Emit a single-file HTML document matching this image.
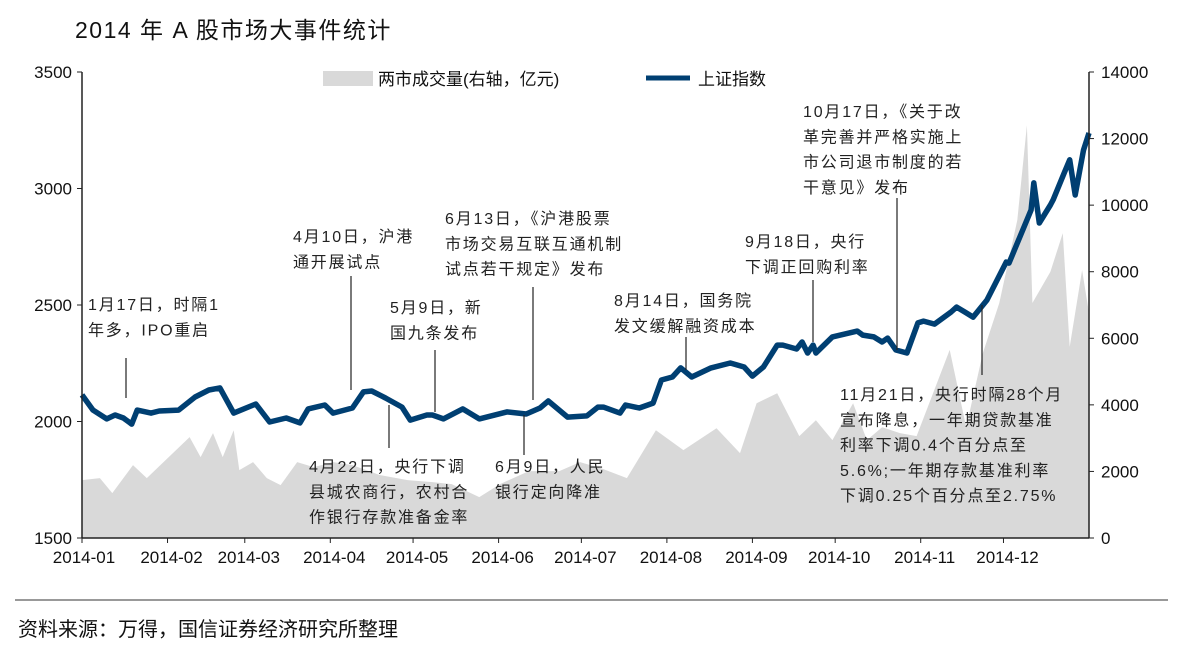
<!DOCTYPE html>
<html><head><meta charset="utf-8"><style>
body{margin:0;background:#fff;}
svg text{font-family:"Liberation Sans","Noto Sans CJK SC",sans-serif;}
</style></head><body>
<svg width="1186" height="653" viewBox="0 0 1186 653">
<text x="75" y="38" font-size="23" fill="#111" letter-spacing="1.5">2014 年 A 股市场大事件统计</text>
<g id="vol"></g>
<g id="idx"></g>
<g id="axes"></g>
<g id="ann"></g>
<g>
<rect x="323" y="71" width="50" height="15" fill="#d9d9d9"/>
<text x="378" y="85" font-size="17" fill="#111">两市成交量(右轴，亿元)</text>
<line x1="646" y1="78" x2="690" y2="78" stroke="#003f72" stroke-width="5"/>
<text x="698" y="85" font-size="17" fill="#111">上证指数</text>
</g>
<line x1="15" y1="600" x2="1168" y2="600" stroke="#333" stroke-width="1"/>
<text x="18" y="636" font-size="20" fill="#111">资料来源：万得，国信证券经济研究所整理</text>
</svg>
<script>
const indexDays=[0,4,9,12,15,18,20,25,28,35,41,46,50,55,63,68,74,79,82,88,91,98,102,105,110,116,119,125,127,131,138,144,154,161,166,169,176,183,187,189,195,197,202,207,210,214,217,221,228,235,240,243,247,252,254,259,261,263,265,266,272,281,283,287,290,292,295,299,303,305,309,315,317,320,323,328,335,336,344,345,347,351,352,356,358,360,363,365];
const indexVals=[2114,2049,2011,2028,2015,1989,2049,2036,2045,2049,2105,2135,2144,2036,2075,1998,2015,1994,2054,2071,2036,2058,2127,2131,2101,2062,2006,2028,2028,2011,2054,2011,2041,2032,2058,2088,2019,2024,2062,2062,2036,2071,2058,2079,2178,2191,2230,2191,2230,2251,2234,2195,2234,2328,2328,2311,2341,2294,2328,2294,2363,2388,2371,2363,2341,2358,2307,2294,2423,2431,2418,2470,2491,2470,2448,2521,2684,2680,2908,3024,2852,2929,2951,3067,3123,2972,3165,3238];
const volDays=[0,6.5,11,18.5,23.5,39,43,47.5,51,55,57,62,67,72,78,84,91,98,108,118,127,134,144,151.5,162,173,180.5,188,197.5,208,218,230,238.5,244.5,252,260,266,272,279.5,284.5,290,296.5,302.5,314.5,320.5,326.5,332.5,339,342.5,344.5,351,355.5,358,362.5,365];
const volVals=[1740,1800,1350,2190,1800,3030,2430,3150,2430,3240,2040,2280,1800,1590,2280,2130,2280,2190,1890,1740,1680,1620,1230,1620,2010,2010,2280,2100,1800,3240,2640,3300,2550,4050,4350,3060,3540,2940,4050,2940,3330,3150,3060,5650,3330,5550,7060,9550,12400,7060,8000,9160,5740,8050,6760];
const leftTicks=[1500,2000,2500,3000,3500];
const rightTicks=[0,2000,4000,6000,8000,10000,12000,14000];
const monthLabels=["2014-01","2014-02","2014-03","2014-04","2014-05","2014-06","2014-07","2014-08","2014-09","2014-10","2014-11","2014-12"];
const monthStarts=[0,31,59,90,120,151,181,212,243,273,304,334];
const annotations=[
 {lines:["1月17日，时隔1","年多，IPO重启"],x:88,y:310,lx:126,ly1:358,ly2:398},
 {lines:["4月10日，沪港","通开展试点"],x:293,y:242,lx:351,ly1:276,ly2:390},
 {lines:["5月9日，新","国九条发布"],x:390,y:313,lx:435,ly1:350,ly2:412},
 {lines:["6月13日，《沪港股票","市场交易互联互通机制","试点若干规定》发布"],x:445,y:224,lx:533,ly1:287,ly2:400},
 {lines:["4月22日，央行下调","县城农商行，农村合","作银行存款准备金率"],x:309,y:472,lx:389,ly1:405,ly2:448},
 {lines:["6月9日，人民","银行定向降准"],x:495,y:472,lx:524,ly1:415,ly2:455},
 {lines:["8月14日，国务院","发文缓解融资成本"],x:614,y:306,lx:686,ly1:337,ly2:370},
 {lines:["9月18日，央行","下调正回购利率"],x:745,y:247,lx:813,ly1:280,ly2:342},
 {lines:["10月17日，《关于改","革完善并严格实施上","市公司退市制度的若","干意见》发布"],x:803,y:117,lx:897,ly1:198,ly2:350},
 {lines:["11月21日，央行时隔28个月","宣布降息，一年期贷款基准","利率下调0.4个百分点至","5.6%;一年期存款基准利率","下调0.25个百分点至2.75%"],x:840,y:400,lx:982,ly1:305,ly2:375}
];
const NS="http://www.w3.org/2000/svg";
const X0=82,X1=1089,Y0=538,Y1=72;
const xS=d=>X0+d*(X1-X0)/365;
const yL=v=>Y0-(v-1500)*(Y0-Y1)/2000;
const yR=v=>Y0-v*(Y0-Y1)/14000;
function mk(t,a,p){const e=document.createElementNS(NS,t);for(const k in a)e.setAttribute(k,a[k]);p.appendChild(e);return e;}
let d="M"+xS(volDays[0])+","+Y0;
volDays.forEach((v,i)=>{d+=" L"+xS(v).toFixed(1)+","+yR(volVals[i]).toFixed(1);});
d+=" L"+xS(volDays[volDays.length-1])+","+Y0+"Z";
const va=mk("path",{d:d,fill:"#d9d9d9"},document.getElementById("vol"));


const pts=indexDays.map((v,i)=>xS(v).toFixed(1)+","+yL(indexVals[i]).toFixed(1)).join(" ");
const il=mk("polyline",{points:pts,fill:"none",stroke:"#003f72","stroke-width":5.5,"stroke-linejoin":"round"},document.getElementById("idx"));


const ax=document.getElementById("axes");
mk("line",{x1:X0,y1:Y1,x2:X0,y2:Y0,stroke:"#222","stroke-width":1.5},ax);
mk("line",{x1:X1,y1:Y1,x2:X1,y2:Y0,stroke:"#222","stroke-width":1.5},ax);
mk("line",{x1:X0,y1:Y0,x2:X1,y2:Y0,stroke:"#222","stroke-width":1.5},ax);
leftTicks.forEach(v=>{mk("line",{x1:X0-5,y1:yL(v),x2:X0,y2:yL(v),stroke:"#222"},ax);
 const t=mk("text",{x:X0-10,y:yL(v)+6,"font-size":17,"text-anchor":"end",fill:"#111"},ax);t.textContent=v;
 
 });
rightTicks.forEach(v=>{mk("line",{x1:X1,y1:yR(v),x2:X1+5,y2:yR(v),stroke:"#222"},ax);
 const t=mk("text",{x:X1+12,y:yR(v)+6,"font-size":17,fill:"#111"},ax);t.textContent=v;
 
 });
monthLabels.forEach((m,i)=>{const x=xS(monthStarts[i]);
 mk("line",{x1:x,y1:Y0,x2:x,y2:Y0+5,stroke:"#222"},ax);
 const t=mk("text",{x:i==0?x+2:x+4,y:Y0+25,"font-size":17,"text-anchor":"middle",fill:"#111"},ax);t.textContent=m;
 
 });
const an=document.getElementById("ann");
annotations.forEach(a=>{
 const l=mk("line",{x1:a.lx,y1:a.ly1,x2:a.lx,y2:a.ly2,stroke:"#222","stroke-width":1.2},an);
 
 
 a.lines.forEach((s,i)=>{const t=mk("text",{x:a.x,y:a.y+i*25.3,"font-size":16,fill:"#222","letter-spacing":"1.8"},an);t.textContent=s;
 
 });
});
</script>
</body></html>
